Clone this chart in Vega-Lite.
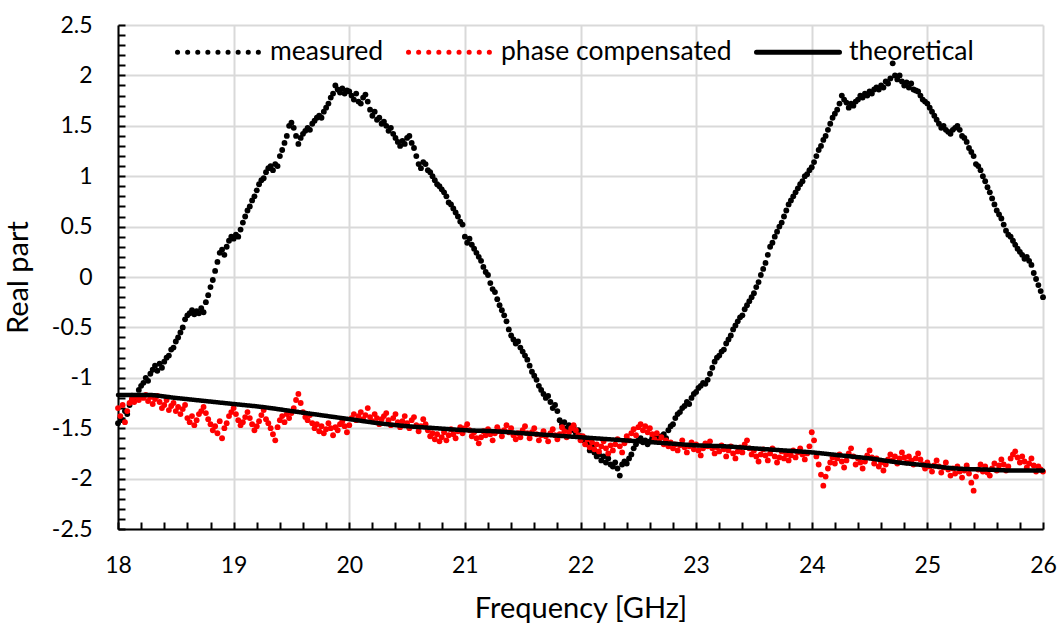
{
"$schema": "https://vega.github.io/schema/vega-lite/v6.json",
"width": 925,
"height": 504,
"autosize": {"type": "none"},
"padding": {"left": 118, "top": 25, "right": 20, "bottom": 102},
"background": "white",
"config": {
  "font": "Lato",
  "view": {"stroke": null},
  "axis": {"domainColor": "#000", "domainWidth": 2, "tickColor": "#000", "tickWidth": 2, "tickSize": -7, "gridColor": "#d9d9d9", "gridWidth": 2, "labelColor": "#000", "labelFont": "Lato", "labelFontSize": 23, "titleFont": "Lato", "titleFontSize": 29, "titleFontWeight": "normal", "titleColor": "#000", "labelFlush": false, "labelOverlap": false, "labelBound": false, "tickCount": 200}
},
"datasets": {
"meas": [
{"f":18.00,"m":-1.45,"p":-1.30},{"f":18.02,"m":-1.40,"p":-1.38},{"f":18.04,"m":-1.42,"p":-1.27},{"f":18.06,"m":-1.33,"p":-1.44},{"f":18.08,"m":-1.36,"p":-1.33},
{"f":18.10,"m":-1.27,"p":-1.25},{"f":18.12,"m":-1.22,"p":-1.21},{"f":18.14,"m":-1.18,"p":-1.24},{"f":18.16,"m":-1.20,"p":-1.19},{"f":18.18,"m":-1.12,"p":-1.22},
{"f":18.20,"m":-1.08,"p":-1.18},{"f":18.22,"m":-1.05,"p":-1.20},{"f":18.24,"m":-1.00,"p":-1.17},{"f":18.26,"m":-1.03,"p":-1.23},{"f":18.28,"m":-0.96,"p":-1.19},
{"f":18.30,"m":-0.92,"p":-1.26},{"f":18.32,"m":-0.88,"p":-1.21},{"f":18.34,"m":-0.93,"p":-1.18},{"f":18.36,"m":-0.86,"p":-1.24},{"f":18.38,"m":-0.90,"p":-1.30},
{"f":18.40,"m":-0.84,"p":-1.27},{"f":18.42,"m":-0.80,"p":-1.22},{"f":18.44,"m":-0.78,"p":-1.32},{"f":18.46,"m":-0.72,"p":-1.28},{"f":18.48,"m":-0.70,"p":-1.25},
{"f":18.50,"m":-0.64,"p":-1.33},{"f":18.52,"m":-0.60,"p":-1.29},{"f":18.54,"m":-0.55,"p":-1.36},{"f":18.56,"m":-0.50,"p":-1.31},{"f":18.58,"m":-0.42,"p":-1.27},
{"f":18.60,"m":-0.38,"p":-1.40},{"f":18.62,"m":-0.36,"p":-1.44},{"f":18.64,"m":-0.33,"p":-1.38},{"f":18.66,"m":-0.37,"p":-1.47},{"f":18.68,"m":-0.34,"p":-1.42},
{"f":18.70,"m":-0.36,"p":-1.36},{"f":18.72,"m":-0.31,"p":-1.33},{"f":18.74,"m":-0.35,"p":-1.29},{"f":18.76,"m":-0.25,"p":-1.35},{"f":18.78,"m":-0.18,"p":-1.41},
{"f":18.80,"m":-0.10,"p":-1.46},{"f":18.82,"m":-0.03,"p":-1.52},{"f":18.84,"m":0.06,"p":-1.48},{"f":18.86,"m":0.15,"p":-1.55},{"f":18.88,"m":0.24,"p":-1.43},
{"f":18.90,"m":0.27,"p":-1.60},{"f":18.92,"m":0.22,"p":-1.50},{"f":18.94,"m":0.30,"p":-1.45},{"f":18.96,"m":0.36,"p":-1.38},{"f":18.98,"m":0.40,"p":-1.34},
{"f":19.00,"m":0.38,"p":-1.30},{"f":19.02,"m":0.42,"p":-1.36},{"f":19.04,"m":0.40,"p":-1.42},{"f":19.06,"m":0.47,"p":-1.47},{"f":19.08,"m":0.54,"p":-1.44},
{"f":19.10,"m":0.60,"p":-1.39},{"f":19.12,"m":0.66,"p":-1.34},{"f":19.14,"m":0.70,"p":-1.40},{"f":19.16,"m":0.76,"p":-1.46},{"f":19.18,"m":0.80,"p":-1.52},
{"f":19.20,"m":0.86,"p":-1.48},{"f":19.22,"m":0.92,"p":-1.43},{"f":19.24,"m":0.96,"p":-1.37},{"f":19.26,"m":0.98,"p":-1.32},{"f":19.28,"m":1.04,"p":-1.41},
{"f":19.30,"m":1.08,"p":-1.45},{"f":19.32,"m":1.10,"p":-1.50},{"f":19.34,"m":1.06,"p":-1.56},{"f":19.36,"m":1.12,"p":-1.62},{"f":19.38,"m":1.10,"p":-1.49},
{"f":19.40,"m":1.20,"p":-1.42},{"f":19.42,"m":1.26,"p":-1.38},{"f":19.44,"m":1.33,"p":-1.44},{"f":19.46,"m":1.40,"p":-1.36},{"f":19.48,"m":1.50,"p":-1.40},
{"f":19.50,"m":1.53,"p":-1.35},{"f":19.52,"m":1.48,"p":-1.30},{"f":19.54,"m":1.40,"p":-1.22},{"f":19.56,"m":1.32,"p":-1.16},{"f":19.58,"m":1.38,"p":-1.25},
{"f":19.60,"m":1.42,"p":-1.34},{"f":19.62,"m":1.45,"p":-1.39},{"f":19.64,"m":1.48,"p":-1.42},{"f":19.66,"m":1.46,"p":-1.37},{"f":19.68,"m":1.52,"p":-1.45},
{"f":19.70,"m":1.55,"p":-1.50},{"f":19.72,"m":1.58,"p":-1.46},{"f":19.74,"m":1.60,"p":-1.53},{"f":19.76,"m":1.58,"p":-1.48},{"f":19.78,"m":1.64,"p":-1.55},
{"f":19.80,"m":1.68,"p":-1.51},{"f":19.82,"m":1.72,"p":-1.45},{"f":19.84,"m":1.78,"p":-1.50},{"f":19.86,"m":1.82,"p":-1.57},{"f":19.88,"m":1.90,"p":-1.49},
{"f":19.90,"m":1.86,"p":-1.52},{"f":19.92,"m":1.83,"p":-1.46},{"f":19.94,"m":1.87,"p":-1.43},{"f":19.96,"m":1.82,"p":-1.48},{"f":19.98,"m":1.85,"p":-1.54},
{"f":20.00,"m":1.84,"p":-1.47},{"f":20.02,"m":1.80,"p":-1.40},{"f":20.04,"m":1.76,"p":-1.36},{"f":20.06,"m":1.82,"p":-1.42},{"f":20.08,"m":1.74,"p":-1.38},
{"f":20.10,"m":1.72,"p":-1.34},{"f":20.12,"m":1.78,"p":-1.41},{"f":20.14,"m":1.81,"p":-1.37},{"f":20.16,"m":1.74,"p":-1.30},{"f":20.18,"m":1.66,"p":-1.39},
{"f":20.20,"m":1.60,"p":-1.43},{"f":20.22,"m":1.64,"p":-1.36},{"f":20.24,"m":1.56,"p":-1.40},{"f":20.26,"m":1.58,"p":-1.46},{"f":20.28,"m":1.52,"p":-1.41},
{"f":20.30,"m":1.54,"p":-1.38},{"f":20.32,"m":1.50,"p":-1.35},{"f":20.34,"m":1.45,"p":-1.42},{"f":20.36,"m":1.48,"p":-1.47},{"f":20.38,"m":1.42,"p":-1.40},
{"f":20.40,"m":1.38,"p":-1.36},{"f":20.42,"m":1.34,"p":-1.44},{"f":20.44,"m":1.30,"p":-1.49},{"f":20.46,"m":1.35,"p":-1.43},{"f":20.48,"m":1.32,"p":-1.38},
{"f":20.50,"m":1.38,"p":-1.45},{"f":20.52,"m":1.40,"p":-1.50},{"f":20.54,"m":1.33,"p":-1.42},{"f":20.56,"m":1.28,"p":-1.39},{"f":20.58,"m":1.20,"p":-1.47},
{"f":20.60,"m":1.12,"p":-1.53},{"f":20.62,"m":1.08,"p":-1.48},{"f":20.64,"m":1.14,"p":-1.41},{"f":20.66,"m":1.12,"p":-1.46},{"f":20.68,"m":1.06,"p":-1.52},
{"f":20.70,"m":1.04,"p":-1.58},{"f":20.72,"m":1.00,"p":-1.55},{"f":20.74,"m":0.96,"p":-1.61},{"f":20.76,"m":0.92,"p":-1.56},{"f":20.78,"m":0.90,"p":-1.63},
{"f":20.80,"m":0.87,"p":-1.59},{"f":20.82,"m":0.84,"p":-1.54},{"f":20.84,"m":0.80,"p":-1.62},{"f":20.86,"m":0.74,"p":-1.57},{"f":20.88,"m":0.72,"p":-1.51},
{"f":20.90,"m":0.68,"p":-1.56},{"f":20.92,"m":0.64,"p":-1.60},{"f":20.94,"m":0.60,"p":-1.53},{"f":20.96,"m":0.55,"p":-1.49},{"f":20.98,"m":0.52,"p":-1.55},
{"f":21.00,"m":0.40,"p":-1.50},{"f":21.02,"m":0.34,"p":-1.46},{"f":21.04,"m":0.38,"p":-1.52},{"f":21.06,"m":0.32,"p":-1.58},{"f":21.08,"m":0.28,"p":-1.54},
{"f":21.10,"m":0.24,"p":-1.60},{"f":21.12,"m":0.20,"p":-1.65},{"f":21.14,"m":0.16,"p":-1.59},{"f":21.16,"m":0.10,"p":-1.53},{"f":21.18,"m":0.05,"p":-1.57},
{"f":21.20,"m":0.02,"p":-1.51},{"f":21.22,"m":-0.06,"p":-1.56},{"f":21.24,"m":-0.12,"p":-1.62},{"f":21.26,"m":-0.15,"p":-1.55},{"f":21.28,"m":-0.22,"p":-1.49},
{"f":21.30,"m":-0.28,"p":-1.53},{"f":21.32,"m":-0.33,"p":-1.58},{"f":21.34,"m":-0.38,"p":-1.52},{"f":21.36,"m":-0.44,"p":-1.47},{"f":21.38,"m":-0.52,"p":-1.54},
{"f":21.40,"m":-0.58,"p":-1.50},{"f":21.42,"m":-0.62,"p":-1.57},{"f":21.44,"m":-0.66,"p":-1.61},{"f":21.46,"m":-0.64,"p":-1.55},{"f":21.48,"m":-0.70,"p":-1.59},
{"f":21.50,"m":-0.74,"p":-1.52},{"f":21.52,"m":-0.78,"p":-1.48},{"f":21.54,"m":-0.82,"p":-1.55},{"f":21.56,"m":-0.88,"p":-1.60},{"f":21.58,"m":-0.94,"p":-1.54},
{"f":21.60,"m":-0.98,"p":-1.50},{"f":21.62,"m":-1.02,"p":-1.56},{"f":21.64,"m":-1.08,"p":-1.62},{"f":21.66,"m":-1.12,"p":-1.57},{"f":21.68,"m":-1.16,"p":-1.53},
{"f":21.70,"m":-1.20,"p":-1.58},{"f":21.72,"m":-1.18,"p":-1.63},{"f":21.74,"m":-1.24,"p":-1.55},{"f":21.76,"m":-1.30,"p":-1.51},{"f":21.78,"m":-1.27,"p":-1.57},
{"f":21.80,"m":-1.33,"p":-1.61},{"f":21.82,"m":-1.42,"p":-1.56},{"f":21.84,"m":-1.46,"p":-1.49},{"f":21.86,"m":-1.44,"p":-1.53},{"f":21.88,"m":-1.50,"p":-1.59},
{"f":21.90,"m":-1.47,"p":-1.54},{"f":21.92,"m":-1.52,"p":-1.50},{"f":21.94,"m":-1.48,"p":-1.47},{"f":21.96,"m":-1.55,"p":-1.52},{"f":21.98,"m":-1.52,"p":-1.57},
{"f":22.00,"m":-1.58,"p":-1.62},{"f":22.02,"m":-1.62,"p":-1.58},{"f":22.04,"m":-1.60,"p":-1.66},{"f":22.06,"m":-1.66,"p":-1.61},{"f":22.08,"m":-1.72,"p":-1.69},
{"f":22.10,"m":-1.68,"p":-1.64},{"f":22.12,"m":-1.74,"p":-1.71},{"f":22.14,"m":-1.78,"p":-1.66},{"f":22.16,"m":-1.76,"p":-1.73},{"f":22.18,"m":-1.82,"p":-1.68},
{"f":22.20,"m":-1.78,"p":-1.63},{"f":22.22,"m":-1.84,"p":-1.70},{"f":22.24,"m":-1.80,"p":-1.75},{"f":22.26,"m":-1.86,"p":-1.67},{"f":22.28,"m":-1.88,"p":-1.72},
{"f":22.30,"m":-1.84,"p":-1.66},{"f":22.32,"m":-1.90,"p":-1.61},{"f":22.34,"m":-1.97,"p":-1.68},{"f":22.36,"m":-1.86,"p":-1.74},{"f":22.38,"m":-1.83,"p":-1.65},
{"f":22.40,"m":-1.85,"p":-1.58},{"f":22.42,"m":-1.80,"p":-1.62},{"f":22.44,"m":-1.76,"p":-1.55},{"f":22.46,"m":-1.70,"p":-1.51},{"f":22.48,"m":-1.66,"p":-1.57},
{"f":22.50,"m":-1.62,"p":-1.49},{"f":22.52,"m":-1.60,"p":-1.46},{"f":22.54,"m":-1.64,"p":-1.52},{"f":22.56,"m":-1.62,"p":-1.48},{"f":22.58,"m":-1.66,"p":-1.54},
{"f":22.60,"m":-1.63,"p":-1.50},{"f":22.62,"m":-1.60,"p":-1.56},{"f":22.64,"m":-1.58,"p":-1.61},{"f":22.66,"m":-1.62,"p":-1.55},{"f":22.68,"m":-1.60,"p":-1.63},
{"f":22.70,"m":-1.58,"p":-1.59},{"f":22.72,"m":-1.56,"p":-1.66},{"f":22.74,"m":-1.60,"p":-1.62},{"f":22.76,"m":-1.52,"p":-1.68},{"f":22.78,"m":-1.48,"p":-1.64},
{"f":22.80,"m":-1.46,"p":-1.70},{"f":22.82,"m":-1.40,"p":-1.66},{"f":22.84,"m":-1.36,"p":-1.72},{"f":22.86,"m":-1.34,"p":-1.67},{"f":22.88,"m":-1.30,"p":-1.62},
{"f":22.90,"m":-1.28,"p":-1.69},{"f":22.92,"m":-1.24,"p":-1.74},{"f":22.94,"m":-1.26,"p":-1.68},{"f":22.96,"m":-1.20,"p":-1.64},{"f":22.98,"m":-1.16,"p":-1.71},
{"f":23.00,"m":-1.14,"p":-1.66},{"f":23.02,"m":-1.10,"p":-1.72},{"f":23.04,"m":-1.08,"p":-1.77},{"f":23.06,"m":-1.05,"p":-1.70},{"f":23.08,"m":-1.06,"p":-1.65},
{"f":23.10,"m":-1.02,"p":-1.68},{"f":23.12,"m":-0.96,"p":-1.63},{"f":23.14,"m":-0.90,"p":-1.70},{"f":23.16,"m":-0.84,"p":-1.75},{"f":23.18,"m":-0.80,"p":-1.69},
{"f":23.20,"m":-0.78,"p":-1.73},{"f":23.22,"m":-0.74,"p":-1.67},{"f":23.24,"m":-0.72,"p":-1.71},{"f":23.26,"m":-0.66,"p":-1.78},{"f":23.28,"m":-0.62,"p":-1.72},
{"f":23.30,"m":-0.58,"p":-1.68},{"f":23.32,"m":-0.52,"p":-1.75},{"f":23.34,"m":-0.48,"p":-1.80},{"f":23.36,"m":-0.44,"p":-1.73},{"f":23.38,"m":-0.40,"p":-1.69},
{"f":23.40,"m":-0.38,"p":-1.74},{"f":23.42,"m":-0.32,"p":-1.66},{"f":23.44,"m":-0.28,"p":-1.62},{"f":23.46,"m":-0.24,"p":-1.70},{"f":23.48,"m":-0.20,"p":-1.76},
{"f":23.50,"m":-0.16,"p":-1.72},{"f":23.52,"m":-0.10,"p":-1.78},{"f":23.54,"m":-0.05,"p":-1.83},{"f":23.56,"m":0.02,"p":-1.76},{"f":23.58,"m":0.08,"p":-1.71},
{"f":23.60,"m":0.14,"p":-1.77},{"f":23.62,"m":0.22,"p":-1.82},{"f":23.64,"m":0.30,"p":-1.75},{"f":23.66,"m":0.34,"p":-1.70},{"f":23.68,"m":0.40,"p":-1.78},
{"f":23.70,"m":0.45,"p":-1.84},{"f":23.72,"m":0.50,"p":-1.79},{"f":23.74,"m":0.54,"p":-1.73},{"f":23.76,"m":0.60,"p":-1.80},{"f":23.78,"m":0.66,"p":-1.76},
{"f":23.80,"m":0.72,"p":-1.82},{"f":23.82,"m":0.76,"p":-1.77},{"f":23.84,"m":0.80,"p":-1.72},{"f":23.86,"m":0.84,"p":-1.79},{"f":23.88,"m":0.88,"p":-1.74},
{"f":23.90,"m":0.92,"p":-1.70},{"f":23.92,"m":0.95,"p":-1.76},{"f":23.94,"m":1.00,"p":-1.81},{"f":23.96,"m":1.02,"p":-1.75},{"f":23.98,"m":1.06,"p":-1.68},
{"f":24.00,"m":1.09,"p":-1.54},{"f":24.02,"m":1.14,"p":-1.62},{"f":24.04,"m":1.20,"p":-1.78},{"f":24.06,"m":1.26,"p":-1.86},{"f":24.08,"m":1.30,"p":-1.96},
{"f":24.10,"m":1.36,"p":-2.07},{"f":24.12,"m":1.40,"p":-1.98},{"f":24.14,"m":1.46,"p":-1.90},{"f":24.16,"m":1.52,"p":-1.84},{"f":24.18,"m":1.58,"p":-1.79},
{"f":24.20,"m":1.62,"p":-1.85},{"f":24.22,"m":1.66,"p":-1.80},{"f":24.24,"m":1.72,"p":-1.76},{"f":24.26,"m":1.80,"p":-1.83},{"f":24.28,"m":1.76,"p":-1.89},
{"f":24.30,"m":1.73,"p":-1.82},{"f":24.32,"m":1.68,"p":-1.75},{"f":24.34,"m":1.72,"p":-1.70},{"f":24.36,"m":1.70,"p":-1.78},{"f":24.38,"m":1.74,"p":-1.86},
{"f":24.40,"m":1.76,"p":-1.80},{"f":24.42,"m":1.80,"p":-1.84},{"f":24.44,"m":1.78,"p":-1.90},{"f":24.46,"m":1.82,"p":-1.83},{"f":24.48,"m":1.80,"p":-1.77},
{"f":24.50,"m":1.84,"p":-1.72},{"f":24.52,"m":1.82,"p":-1.79},{"f":24.54,"m":1.86,"p":-1.85},{"f":24.56,"m":1.88,"p":-1.80},{"f":24.58,"m":1.86,"p":-1.88},
{"f":24.60,"m":1.90,"p":-1.84},{"f":24.62,"m":1.88,"p":-1.92},{"f":24.64,"m":1.94,"p":-1.86},{"f":24.66,"m":1.92,"p":-1.81},{"f":24.68,"m":1.97,"p":-1.76},
{"f":24.70,"m":2.12,"p":-1.82},{"f":24.72,"m":2.00,"p":-1.78},{"f":24.74,"m":1.96,"p":-1.85},{"f":24.76,"m":2.00,"p":-1.80},{"f":24.78,"m":1.94,"p":-1.74},
{"f":24.80,"m":1.90,"p":-1.79},{"f":24.82,"m":1.93,"p":-1.84},{"f":24.84,"m":1.88,"p":-1.78},{"f":24.86,"m":1.92,"p":-1.82},{"f":24.88,"m":1.86,"p":-1.86},
{"f":24.90,"m":1.85,"p":-1.80},{"f":24.92,"m":1.84,"p":-1.75},{"f":24.94,"m":1.80,"p":-1.81},{"f":24.96,"m":1.76,"p":-1.86},{"f":24.98,"m":1.74,"p":-1.90},
{"f":25.00,"m":1.72,"p":-1.84},{"f":25.02,"m":1.68,"p":-1.88},{"f":25.04,"m":1.64,"p":-1.93},{"f":25.06,"m":1.60,"p":-1.87},{"f":25.08,"m":1.56,"p":-1.82},
{"f":25.10,"m":1.52,"p":-1.88},{"f":25.12,"m":1.48,"p":-1.94},{"f":25.14,"m":1.50,"p":-1.89},{"f":25.16,"m":1.46,"p":-1.84},{"f":25.18,"m":1.44,"p":-1.91},
{"f":25.20,"m":1.42,"p":-1.97},{"f":25.22,"m":1.46,"p":-1.90},{"f":25.24,"m":1.48,"p":-1.95},{"f":25.26,"m":1.50,"p":-1.88},{"f":25.28,"m":1.46,"p":-1.93},
{"f":25.30,"m":1.40,"p":-1.99},{"f":25.32,"m":1.38,"p":-1.92},{"f":25.34,"m":1.34,"p":-1.87},{"f":25.36,"m":1.28,"p":-1.95},{"f":25.38,"m":1.24,"p":-2.04},
{"f":25.40,"m":1.20,"p":-2.12},{"f":25.42,"m":1.12,"p":-1.98},{"f":25.44,"m":1.10,"p":-1.91},{"f":25.46,"m":1.06,"p":-1.86},{"f":25.48,"m":1.00,"p":-1.93},
{"f":25.50,"m":0.95,"p":-1.88},{"f":25.52,"m":0.89,"p":-1.94},{"f":25.54,"m":0.84,"p":-1.97},{"f":25.56,"m":0.78,"p":-1.90},{"f":25.58,"m":0.72,"p":-1.85},
{"f":25.60,"m":0.66,"p":-1.92},{"f":25.62,"m":0.62,"p":-1.87},{"f":25.64,"m":0.58,"p":-1.81},{"f":25.66,"m":0.52,"p":-1.86},{"f":25.68,"m":0.46,"p":-1.92},
{"f":25.70,"m":0.42,"p":-1.88},{"f":25.72,"m":0.40,"p":-1.80},{"f":25.74,"m":0.36,"p":-1.76},{"f":25.76,"m":0.32,"p":-1.73},{"f":25.78,"m":0.28,"p":-1.79},
{"f":25.80,"m":0.25,"p":-1.84},{"f":25.82,"m":0.22,"p":-1.78},{"f":25.84,"m":0.18,"p":-1.83},{"f":25.86,"m":0.20,"p":-1.89},{"f":25.88,"m":0.16,"p":-1.85},
{"f":25.90,"m":0.12,"p":-1.80},{"f":25.92,"m":0.04,"p":-1.87},{"f":25.94,"m":-0.02,"p":-1.93},{"f":25.96,"m":-0.08,"p":-1.88},{"f":25.98,"m":-0.14,"p":-1.91},
{"f":26.00,"m":-0.20,"p":-1.93}
],
"theory": [
{"f":18.00,"t":-1.17,"s":"theoretical"},{"f":18.25,"t":-1.17,"s":"theoretical"},{"f":18.50,"t":-1.20,"s":"theoretical"},{"f":18.75,"t":-1.23,"s":"theoretical"},
{"f":19.00,"t":-1.26,"s":"theoretical"},{"f":19.25,"t":-1.29,"s":"theoretical"},{"f":19.50,"t":-1.33,"s":"theoretical"},{"f":19.75,"t":-1.37,"s":"theoretical"},
{"f":20.00,"t":-1.41,"s":"theoretical"},{"f":20.25,"t":-1.45,"s":"theoretical"},{"f":20.50,"t":-1.48,"s":"theoretical"},{"f":20.75,"t":-1.50,"s":"theoretical"},
{"f":21.00,"t":-1.52,"s":"theoretical"},{"f":21.25,"t":-1.53,"s":"theoretical"},{"f":21.50,"t":-1.55,"s":"theoretical"},{"f":21.75,"t":-1.57,"s":"theoretical"},
{"f":22.00,"t":-1.59,"s":"theoretical"},{"f":22.25,"t":-1.61,"s":"theoretical"},{"f":22.50,"t":-1.63,"s":"theoretical"},{"f":22.75,"t":-1.65,"s":"theoretical"},
{"f":23.00,"t":-1.67,"s":"theoretical"},{"f":23.25,"t":-1.68,"s":"theoretical"},{"f":23.50,"t":-1.70,"s":"theoretical"},{"f":23.75,"t":-1.72,"s":"theoretical"},
{"f":24.00,"t":-1.74,"s":"theoretical"},{"f":24.25,"t":-1.77,"s":"theoretical"},{"f":24.50,"t":-1.80,"s":"theoretical"},{"f":24.75,"t":-1.84,"s":"theoretical"},
{"f":25.00,"t":-1.87,"s":"theoretical"},{"f":25.25,"t":-1.90,"s":"theoretical"},{"f":25.50,"t":-1.91,"s":"theoretical"},{"f":25.75,"t":-1.92,"s":"theoretical"},
{"f":26.00,"t":-1.92,"s":"theoretical"}
]
},
"encoding": {
  "x": {"field": "f", "type": "quantitative", "title": "Frequency [GHz]",
    "scale": {"domain": [18, 26], "nice": false, "zero": false},
    "axis": {"values": [18,18.2,18.4,18.6,18.8,19,19.2,19.4,19.6,19.8,20,20.2,20.4,20.6,20.8,21,21.2,21.4,21.6,21.8,22,22.2,22.4,22.6,22.8,23,23.2,23.4,23.6,23.8,24,24.2,24.4,24.6,24.8,25,25.2,25.4,25.6,25.8,26],
      "tickCount": 200,
      "labelExpr": "abs(datum.value - round(datum.value)) < 0.001 ? '' + round(datum.value) : ''",
      "gridOpacity": {"condition": {"test": "abs(datum.value - round(datum.value)) < 0.001", "value": 1}, "value": 0},
      "labelPadding": 32, "titlePadding": 17}
  }
},
"layer": [
  {"data": {"name": "meas"},
   "mark": {"type": "point", "filled": true, "size": 34, "color": "#000000", "opacity": 1},
   "encoding": {"y": {"field": "m", "type": "quantitative", "title": "Real part",
     "scale": {"domain": [-2.5, 2.5], "nice": false, "zero": false},
     "axis": {"values": [-2.5,-2.4,-2.3,-2.2,-2.1,-2,-1.9,-1.8,-1.7,-1.6,-1.5,-1.4,-1.3,-1.2,-1.1,-1,-0.9,-0.8,-0.7,-0.6,-0.5,-0.4,-0.3,-0.2,-0.1,0,0.1,0.2,0.3,0.4,0.5,0.6,0.7,0.8,0.9,1,1.1,1.2,1.3,1.4,1.5,1.6,1.7,1.8,1.9,2,2.1,2.2,2.3,2.4,2.5],
       "tickCount": 200,
       "labelExpr": "abs(datum.value*2 - round(datum.value*2)) < 0.001 ? '' + round(datum.value*10)/10 : ''",
       "gridOpacity": {"condition": {"test": "abs(datum.value*2 - round(datum.value*2)) < 0.001", "value": 1}, "value": 0},
       "labelPadding": 33, "titlePadding": 18}}}},
  {"data": {"name": "meas"},
   "mark": {"type": "point", "filled": true, "size": 34, "color": "#ff0000", "opacity": 1},
   "encoding": {"y": {"field": "p", "type": "quantitative", "title": "Real part"}}},
  {"data": {"name": "theory"},
   "mark": {"type": "line", "strokeWidth": 4.5, "interpolate": "monotone", "strokeCap": "round"},
   "encoding": {
     "y": {"field": "t", "type": "quantitative", "title": "Real part"},
     "color": {"field": "s", "type": "nominal",
       "scale": {"domain": ["measured", "phase compensated", "theoretical"], "range": ["#000000", "#ff0000", "#000000"]},
       "legend": {"title": null, "orient": "none", "legendX": 57, "legendY": -17, "direction": "horizontal", "symbolType": "stroke", "symbolSize": 6889, "symbolStrokeWidth": 5, "labelFontSize": 26.5, "labelFont": "Lato", "labelColor": "#000", "labelOffset": 7, "labelLimit": 500, "columnPadding": 14, "padding": 0,
         "encode": {"symbols": {"update": {"strokeCap": {"value": "round"}}}}}},
     "strokeDash": {"field": "s", "type": "nominal",
       "scale": {"domain": ["measured", "phase compensated", "theoretical"], "range": [[0.1, 10], [0.1, 10], [1, 0]]},
       "legend": {"title": null, "orient": "none", "legendX": 57, "legendY": -17, "direction": "horizontal", "symbolType": "stroke", "symbolSize": 6889, "symbolStrokeWidth": 5, "labelFontSize": 26.5, "labelFont": "Lato", "labelColor": "#000", "labelOffset": 7, "labelLimit": 500, "columnPadding": 14, "padding": 0,
         "encode": {"symbols": {"update": {"strokeCap": {"value": "round"}}}}}}
   }},
  {"data": {"values": [{}]},
   "mark": {"type": "rule", "color": "#000000", "strokeWidth": 2},
   "encoding": {"x": {"datum": 26}}}
]
}
